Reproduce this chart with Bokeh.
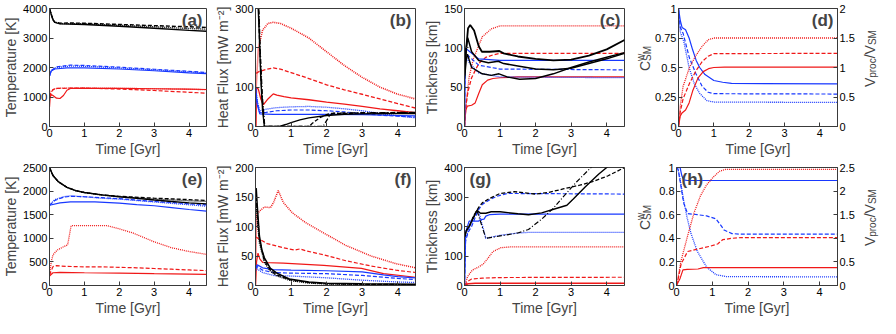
from math import pi
from bokeh.plotting import figure
from bokeh.models import Range1d, LinearAxis, FixedTicker, CustomJSTickFormatter, Label
from bokeh.layouts import row, column
from bokeh.embed import file_html
from bokeh.resources import INLINE

# ---------------- data (time in Gyr) ----------------
X_TICKS = [0, 1, 2, 3, 4]

# (a) Temperature [K]
A_K1_T = [0, 0.05, 0.1, 0.15, 0.3, 1, 2, 3, 4, 4.5]
A_K1_Y = [4000, 3800, 3620, 3530, 3480, 3460, 3400, 3330, 3260, 3230]
A_K2_T = [0, 0.05, 0.1, 0.15, 0.3, 0.5, 1, 2, 3, 4, 4.5]
A_K2_Y = [4000, 3800, 3620, 3540, 3500, 3510, 3500, 3460, 3420, 3380, 3360]
A_K3_T = [0, 0.1, 0.15, 0.3, 1, 2, 3, 4, 4.5]
A_K3_Y = [4000, 3620, 3540, 3490, 3480, 3430, 3380, 3320, 3300]
A_B1_T = [0, 0.05, 0.15, 0.5, 1, 2, 3, 4, 4.5]
A_B1_Y = [1720, 1880, 1950, 1990, 1985, 1950, 1890, 1820, 1790]
A_B2_T = [0, 0.05, 0.2, 0.6, 1, 2, 3, 4, 4.5]
A_B2_Y = [1720, 1900, 2020, 2080, 2070, 2010, 1940, 1870, 1830]
A_B3_T = [0, 0.05, 0.2, 0.6, 1, 2, 3, 4, 4.5]
A_B3_Y = [1720, 1890, 2000, 2050, 2040, 1985, 1920, 1850, 1810]
A_R1_T = [0, 0.02, 0.05, 0.1, 0.2, 0.3, 0.4, 0.5, 0.6, 1, 2, 3, 4, 4.5]
A_R1_Y = [650, 1000, 1080, 1050, 960, 950, 1050, 1230, 1290, 1295, 1290, 1280, 1265, 1255]
A_R2_T = [0, 0.05, 0.1, 0.2, 0.6, 1, 2, 3, 4, 4.5]
A_R2_Y = [1000, 1150, 1250, 1290, 1300, 1300, 1270, 1220, 1160, 1130]
A_R3_T = [0, 0.05, 0.15, 0.3, 1, 2, 3, 4, 4.5]
A_R3_Y = [1050, 1200, 1280, 1300, 1305, 1295, 1280, 1260, 1250]

# (b) Heat flux [mW m-2]
B_R3_T = [0.01, 0.02, 0.08, 0.2, 0.35, 0.5, 0.7, 1, 1.5, 2, 2.5, 3, 3.5, 4, 4.5]
B_R3_Y = [0, 100, 200, 245, 262, 265, 262, 250, 225, 190, 155, 125, 100, 82, 70]
B_R2_T = [0.02, 0.1, 0.3, 0.5, 0.7, 1, 1.5, 2, 2.5, 3, 3.5, 4, 4.5]
B_R2_Y = [135, 140, 145, 149, 146, 137, 122, 106, 93, 82, 70, 58, 47]
B_R1_T = [0.01, 0.03, 0.08, 0.15, 0.22, 0.35, 0.5, 0.6, 0.8, 1, 1.5, 2, 2.5, 3, 3.5, 4, 4.5]
B_R1_Y = [0, 100, 95, 70, 55, 70, 83, 80, 76, 73, 68, 62, 57, 51, 45, 40, 35]
B_B1_T = [0, 0.05, 0.12, 0.5, 1, 2, 3, 4, 4.5]
B_B1_Y = [100, 55, 32, 31, 31, 31, 30, 28, 27]
B_B2_T = [0, 0.05, 0.12, 0.3, 0.6, 1, 1.5, 2, 2.5, 3, 3.5, 4, 4.5]
B_B2_Y = [100, 60, 35, 36, 40, 42, 42, 40, 37, 33, 29, 26, 24]
B_B3_T = [0, 0.05, 0.12, 0.3, 0.6, 1, 1.5, 2, 2.5, 3, 3.5, 4, 4.5]
B_B3_Y = [100, 65, 40, 44, 48, 50, 51, 49, 45, 40, 33, 27, 22]
B_K1_T = [0.03, 0.1, 0.15, 0.2, 0.25, 0.6, 0.7, 0.85, 1, 1.25, 1.5, 2, 2.5, 3, 4, 4.5]
B_K1_Y = [400, 250, 120, 40, 0, 0, 1, 5, 10, 17, 22, 28, 31, 32, 33, 33]
B_K2_T = [0.05, 0.12, 0.18, 0.25, 1.5, 1.6, 1.8, 2, 2.1, 3, 4, 4.5]
B_K2_Y = [400, 200, 80, 0, 0, 8, 22, 30, 33, 34, 35, 35]
B_K3_T = [0.06, 0.13, 0.19, 0.26, 1.9, 2, 2.1, 2.2, 3, 4.5]
B_K3_Y = [400, 200, 80, 0, 0, 15, 30, 34, 35, 36]

# (c) Thickness [km]
C_R3_T = [0, 0.05, 0.13, 0.25, 0.5, 0.75, 1, 4.5]
C_R3_Y = [0, 30, 63, 86, 114, 124, 128, 128]
C_R2_T = [0, 0.05, 0.1, 0.2, 0.4, 0.6, 0.8, 1, 4.5]
C_R2_Y = [0, 30, 45, 62, 80, 88, 91, 93, 93]
C_R1_T = [0, 0.03, 0.08, 0.2, 0.3, 0.4, 0.5, 0.65, 0.8, 1, 1.5, 4.5]
C_R1_Y = [0, 20, 26, 27, 30, 42, 53, 59, 61, 62, 63, 63]
C_B1_T = [0, 0.02, 0.15, 0.4, 1, 4.5]
C_B1_Y = [0, 100, 95, 86, 84, 84]
C_B2_T = [0, 0.02, 0.15, 0.4, 1, 4.5]
C_B2_Y = [0, 95, 88, 78, 73, 72]
C_B3_T = [0, 0.02, 0.15, 0.4, 1, 4.5]
C_B3_Y = [0, 90, 80, 68, 63, 62]
C_K1_T = [0, 0.05, 0.1, 0.16, 0.27, 0.4, 0.49, 0.7, 0.98, 1.1, 1.5, 2, 2.5, 3, 3.5, 4, 4.5]
C_K1_Y = [65, 100, 125, 129, 122, 102, 95, 95, 96, 93, 89, 86, 84, 85, 90, 98, 110]
C_K2_T = [0, 0.05, 0.09, 0.2, 0.4, 0.67, 0.95, 1.1, 1.5, 2, 2.5, 3, 3.5, 4, 4.5]
C_K2_Y = [75, 100, 113, 95, 84, 81, 83, 80, 77, 73, 72, 74, 80, 86, 93]
C_K3_T = [0, 0.05, 0.08, 0.2, 0.5, 0.75, 0.97, 1.2, 1.55, 2, 2.5, 3, 3.5, 4, 4.5]
C_K3_Y = [60, 85, 92, 75, 67, 65, 67, 63, 60, 61, 67, 75, 82, 88, 94]

# (d) C^w_SM (left) and V_proc/V_SM (right)
D_B1_T = [0, 0.05, 0.1, 0.2, 0.3, 0.4, 0.5, 0.6, 0.75, 1.0, 1.25, 1.5, 4.5]
D_B1_Y = [1, 0.9, 0.84, 0.82, 0.75, 0.65, 0.56, 0.5, 0.44, 0.39, 0.375, 0.365, 0.362]
D_B2_T = [0, 0.05, 0.13, 0.31, 0.49, 0.67, 0.84, 1.0, 4.5]
D_B2_Y = [1, 0.84, 0.79, 0.58, 0.45, 0.34, 0.29, 0.278, 0.275]
D_B3_T = [0, 0.05, 0.15, 0.3, 0.45, 0.6, 0.8, 1.0, 4.5]
D_B3_Y = [1, 0.8, 0.72, 0.5, 0.36, 0.28, 0.22, 0.207, 0.204]
D_R1_T = [0, 0.05, 0.1, 0.2, 0.3, 0.4, 0.55, 0.7, 0.85, 1.0, 1.3, 4.5]
D_R1_Y = [0, 0.18, 0.23, 0.28, 0.4, 0.6, 0.82, 0.93, 0.98, 1.0, 1.005, 1.005]
D_R2_T = [0, 0.05, 0.13, 0.31, 0.49, 0.67, 0.84, 1.0, 4.5]
D_R2_Y = [0, 0.25, 0.47, 0.73, 0.94, 1.1, 1.19, 1.235, 1.24]
D_R3_T = [0, 0.05, 0.13, 0.31, 0.49, 0.67, 0.84, 1.0, 4.5]
D_R3_Y = [0, 0.35, 0.68, 1.0, 1.2, 1.36, 1.47, 1.5, 1.5]

# (e) Temperature [K]
E_K1_T = [0, 0.1, 0.25, 0.5, 0.75, 1, 1.5, 2, 2.5, 3, 3.5, 4, 4.5]
E_K1_Y = [2500, 2330, 2200, 2080, 2010, 1970, 1920, 1880, 1850, 1810, 1780, 1750, 1730]
E_K2_T = [0, 0.1, 0.25, 0.5, 0.75, 1, 1.5, 2, 3, 4, 4.5]
E_K2_Y = [2500, 2330, 2200, 2080, 2010, 1970, 1920, 1890, 1850, 1820, 1800]
E_K3_T = [0, 0.1, 0.25, 0.5, 0.75, 1, 1.5, 2, 3, 4, 4.5]
E_K3_Y = [2500, 2330, 2200, 2080, 2010, 1970, 1915, 1880, 1830, 1795, 1780]
E_B1_T = [0, 0.3, 0.6, 1.3, 2, 2.5, 3, 3.5, 4, 4.5]
E_B1_Y = [1700, 1750, 1770, 1770, 1745, 1715, 1690, 1650, 1610, 1575]
E_B2_T = [0, 0.15, 0.4, 0.6, 1, 1.5, 2, 2.5, 3, 3.5, 4, 4.5]
E_B2_Y = [1700, 1800, 1870, 1890, 1880, 1860, 1840, 1810, 1780, 1760, 1730, 1710]
E_B3_T = [0, 0.15, 0.4, 0.6, 1, 1.5, 2, 2.5, 3, 3.5, 4, 4.5]
E_B3_Y = [1700, 1820, 1880, 1900, 1880, 1850, 1830, 1800, 1770, 1740, 1710, 1680]
E_R3_T = [0, 0.05, 0.1, 0.22, 0.4, 0.52, 0.62, 1.65, 2, 2.4, 3, 3.5, 4, 4.5]
E_R3_Y = [200, 500, 650, 750, 820, 860, 1270, 1270, 1200, 1110, 925, 800, 720, 660]
E_R2_T = [0, 0.1, 0.2, 0.5, 1, 1.5, 2, 2.5, 3, 3.5, 4, 4.5]
E_R2_Y = [220, 400, 420, 405, 395, 395, 385, 375, 360, 345, 330, 315]
E_R1_T = [0, 0.1, 0.3, 1, 2, 3, 4, 4.5]
E_R1_Y = [200, 270, 280, 270, 262, 250, 240, 235]

# (f) Heat flux [mW m-2]
F_R3_T = [0.0, 0.03, 0.07, 0.15, 0.25, 0.42, 0.51, 0.64, 0.78, 1.04, 1.4, 1.92, 2.54, 3.25, 3.95, 4.5]
F_R3_Y = [0, 120, 123, 128, 133, 132, 141, 161, 141, 123, 107, 89, 68, 50, 37, 30]
F_R2_T = [0.02, 0.1, 0.33, 0.78, 1.1, 1.25, 1.4, 1.92, 2.54, 3.25, 3.95, 4.5]
F_R2_Y = [82, 79, 71, 64, 60, 62, 59, 52, 42, 33, 26, 22]
F_R1_T = [0, 0.03, 0.07, 0.12, 0.2, 0.78, 1.92, 2.98, 3.6, 4.5]
F_R1_Y = [0, 40, 55, 45, 39, 38, 34, 29, 20, 14]
F_B1_T = [0, 0.05, 0.2, 0.5, 1, 2, 3, 3.6, 4, 4.5]
F_B1_Y = [30, 35, 30, 27, 26, 25, 23, 18, 15, 13]
F_B2_T = [0, 0.05, 0.2, 0.5, 1, 2, 3, 4, 4.5]
F_B2_Y = [28, 32, 26, 22, 21, 20, 17, 12, 10]
F_B3_T = [0, 0.05, 0.2, 0.5, 1, 2, 3, 4, 4.5]
F_B3_Y = [25, 28, 22, 17, 16, 13, 9, 6, 5]
F_K1_T = [0.02, 0.05, 0.11, 0.18, 0.25, 0.42, 0.6, 0.95, 1.5, 2, 3, 4.5]
F_K1_Y = [165, 135, 84, 60, 47, 29, 21, 11, 6, 4, 3, 2]
F_K2_T = [0.02, 0.05, 0.11, 0.25, 0.42, 0.6, 1, 1.5, 2, 3, 4.5]
F_K2_Y = [150, 120, 78, 42, 26, 18, 9, 5, 3, 2, 1.5]
F_K3_T = [0.02, 0.05, 0.11, 0.25, 0.42, 0.6, 1, 1.5, 2, 3, 4.5]
F_K3_Y = [140, 110, 72, 39, 24, 16, 8, 4, 2.5, 1.5, 1]

# (g) Thickness [km]
G_R1_T = [0, 0.1, 0.3, 4.5]
G_R1_Y = [0, 6, 8, 8]
G_R2_T = [0, 0.1, 0.2, 0.5, 1, 4.5]
G_R2_Y = [0, 15, 22, 25, 27, 28]
G_R3_T = [0, 0.09, 0.22, 0.4, 0.53, 0.67, 0.8, 1.02, 1.3, 4.5]
G_R3_Y = [0, 31, 52, 63, 73, 94, 115, 128, 131, 131]
G_B1_T = [0, 0.03, 0.13, 0.4, 0.42, 0.55, 0.6, 0.7, 1, 4.5]
G_B1_Y = [0, 180, 218, 218, 222, 225, 235, 240, 242, 242]
G_B2_T = [0, 0.03, 0.1, 0.2, 0.3, 0.4, 0.5, 0.7, 0.9, 1.2, 4.5]
G_B2_Y = [0, 150, 180, 200, 230, 258, 275, 290, 302, 312, 310]
G_B3_T = [0, 0.03, 0.15, 0.3, 0.4, 0.6, 1, 1.5, 1.8, 4.5]
G_B3_Y = [0, 160, 200, 240, 250, 160, 170, 178, 180, 180]
G_K1_T = [0, 0.05, 0.15, 0.25, 0.35, 0.45, 0.6, 0.75, 1.0, 1.5, 1.8, 2.17, 2.6, 2.88, 3.06, 3.4, 3.77, 4.0, 4.2]
G_K1_Y = [165, 185, 205, 230, 255, 245, 245, 250, 250, 243, 240, 246, 262, 272, 293, 335, 377, 400, 420]
G_K2_T = [0, 0.05, 0.15, 0.25, 0.4, 0.5, 0.7, 1.0, 1.4, 2.0, 2.35, 2.8, 3.24, 3.6, 4.04, 4.5]
G_K2_Y = [165, 185, 205, 235, 265, 280, 295, 312, 318, 310, 315, 328, 340, 352, 372, 400]
G_K3_T = [0, 0.05, 0.15, 0.25, 0.35, 0.6, 1.0, 1.5, 1.8, 2.17, 2.5, 2.8, 3.15, 3.6]
G_K3_Y = [165, 185, 205, 230, 255, 160, 168, 178, 190, 225, 262, 304, 351, 405]

# (h) C^w_SM (left) and V_proc/V_SM (right)
H_B1_T = [0, 0.1, 0.15, 0.2, 0.3, 4.5]
H_B1_Y = [1, 1, 0.93, 0.895, 0.89, 0.89]
H_B2_T = [0, 0.05, 0.12, 0.2, 0.31, 0.58, 0.84, 1.1, 1.24, 1.33, 1.55, 1.8, 4.5]
H_B2_Y = [1, 0.98, 0.85, 0.7, 0.61, 0.6, 0.59, 0.565, 0.51, 0.47, 0.44, 0.435, 0.435]
H_B3_T = [0, 0.03, 0.1, 0.2, 0.3, 0.4, 0.58, 0.84, 1.1, 1.4, 4.5]
H_B3_Y = [1, 1, 0.9, 0.72, 0.57, 0.445, 0.29, 0.157, 0.092, 0.075, 0.073]
H_R1_T = [0, 0.1, 0.18, 0.3, 0.6, 0.75, 4.5]
H_R1_Y = [0, 0.15, 0.33, 0.34, 0.35, 0.38, 0.38]
H_R2_T = [0, 0.05, 0.13, 0.31, 0.58, 0.93, 1.15, 1.29, 1.55, 1.8, 4.5]
H_R2_Y = [0, 0.15, 0.46, 0.72, 0.77, 0.83, 0.88, 0.97, 1.0, 1.015, 1.015]
H_R3_T = [0, 0.05, 0.13, 0.31, 0.49, 0.67, 0.84, 1.02, 1.2, 1.37, 4.5]
H_R3_Y = [0, 0.2, 0.53, 1.05, 1.54, 1.9, 2.13, 2.29, 2.42, 2.46, 2.46]

# ---------------- styling ----------------
RED = "#f01818"
BLUE = "#1838ff"
BLACK = "#000000"
DASH = {"-": "solid", "--": "4 2", ":": "1 1", "-.": "5 2 1 2"}
FONT = "Liberation Sans"
FRAME = "#3a3a3a"
H = 159
TOP, BOT = 8, 32
FH = H - TOP - BOT
FMT = CustomJSTickFormatter(code="return String(+tick.toFixed(3));")


def style_axis(ax, ticks):
    ax.ticker = FixedTicker(ticks=ticks)
    ax.formatter = FMT
    ax.major_tick_in = 4
    ax.major_tick_out = 0
    ax.minor_tick_line_color = None
    ax.major_tick_line_color = FRAME
    ax.axis_line_color = FRAME
    ax.major_label_text_font = FONT
    ax.major_label_text_font_size = "11px"
    ax.major_label_text_color = "black"
    ax.major_label_standoff = 2
    ax.axis_label_text_font = FONT
    ax.axis_label_text_font_size = "14px"
    ax.axis_label_text_font_style = "normal"
    ax.axis_label_standoff = 1


def panel(width, left, right, yr, yticks, ylabel, tag, tag_left=False, right_range=None, right_ticks=None):
    p = figure(width=width, height=H, x_range=Range1d(0, 4.5), y_range=Range1d(*yr),
               output_backend="svg", toolbar_location=None,
               min_border_left=left, min_border_right=right,
               min_border_top=TOP, min_border_bottom=BOT)
    p.xgrid.visible = False
    p.ygrid.visible = False
    p.outline_line_color = FRAME
    p.outline_line_alpha = 1
    style_axis(p.xaxis[0], X_TICKS)
    style_axis(p.yaxis[0], yticks)
    p.xaxis[0].axis_label = "Time [Gyr]"
    if ylabel:
        p.yaxis[0].axis_label = ylabel
    if right_range is not None:
        p.extra_y_ranges = {"r": Range1d(*right_range)}
        rax = LinearAxis(y_range_name="r")
        style_axis(rax, right_ticks)
        p.add_layout(rax, "right")
    if tag_left:
        p.add_layout(Label(x=0, y=yr[1], x_offset=5, y_offset=-2, text=tag, text_align="left",
                           text_baseline="top", text_font=FONT, text_font_size="17px",
                           text_font_style="bold"))
    else:
        p.add_layout(Label(x=4.5, y=yr[1], x_offset=-4, y_offset=-2, text=tag, text_align="right",
                           text_baseline="top", text_font=FONT, text_font_size="17px",
                           text_font_style="bold"))
    return p


def lines(p, series, rng=None):
    for t, y, c, d, w in series:
        kw = {} if rng is None else {"y_range_name": rng}
        p.line(t, y, line_color=c, line_dash=DASH[d], line_width=w, **kw)


def text_strip(width, parts):
    """A narrow blank figure that only carries rotated axis-title pieces."""
    f = figure(width=width, height=H, x_range=Range1d(0, width), y_range=Range1d(0, H),
               output_backend="svg", toolbar_location=None,
               x_axis_location=None, y_axis_location=None,
               min_border=0, min_border_left=0, min_border_right=0,
               min_border_top=0, min_border_bottom=0)
    f.outline_line_color = None
    f.xgrid.visible = False
    f.ygrid.visible = False
    ymid = H - (TOP + FH / 2)
    for txt, x, dy, size in parts:
        f.add_layout(Label(x=x, y=ymid, y_offset=dy, text=txt, angle=pi / 2,
                           text_align="left", text_baseline="alphabetic",
                           text_font=FONT, text_font_size=size))
    return f


WA, WB, WC = 212, 209, 208
LA, LB, LC = 44, 41, 41
RA, RB, RC = 6, 6, 5
SL, SR = 23, 23          # widths of the strips carrying C^w_SM and V_proc/V_SM
LD, RD = 24, 19
WD = 880 - WA - WB - WC - SL - SR

HF = "Heat Flux [mW m\u207b\u00b2]"

# pieces: (text, x of baseline inside strip, offset along the text, size)
CSM = [("C", 15, -12.5, "14px"), ("w", 10.5, -2.4, "10px"), ("SM", 18, -2.4, "10px")]
VPROC = [("V", 12, -28.5, "14px"), ("proc", 15, -19.2, "10px"), ("/V", 12, 0.3, "14px"), ("SM", 15, 13.5, "10px")]

pa = panel(WA, LA, RA, (0, 4000), [0, 1000, 2000, 3000, 4000], "Temperature [K]", "(a)")
lines(pa, [(A_R1_T, A_R1_Y, RED, "-", 1.2), (A_R2_T, A_R2_Y, RED, "--", 1.2), (A_R3_T, A_R3_Y, RED, ":", 1.3),
           (A_B1_T, A_B1_Y, BLUE, "-", 1.2), (A_B2_T, A_B2_Y, BLUE, "--", 1.2), (A_B3_T, A_B3_Y, BLUE, ":", 1.3),
           (A_K1_T, A_K1_Y, BLACK, "-", 1.4), (A_K2_T, A_K2_Y, BLACK, "--", 1.4), (A_K3_T, A_K3_Y, BLACK, ":", 1.4)])

pb = panel(WB, LB, RB, (0, 300), [0, 100, 200, 300], HF, "(b)")
lines(pb, [(B_R3_T, B_R3_Y, RED, ":", 1.6), (B_R2_T, B_R2_Y, RED, "--", 1.3), (B_R1_T, B_R1_Y, RED, "-", 1.3),
           (B_B1_T, B_B1_Y, BLUE, "-", 1.2), (B_B2_T, B_B2_Y, BLUE, "--", 1.2), (B_B3_T, B_B3_Y, BLUE, ":", 1.3),
           (B_K1_T, B_K1_Y, BLACK, "-", 1.4), (B_K2_T, B_K2_Y, BLACK, "--", 1.3), (B_K3_T, B_K3_Y, BLACK, "-.", 1.3)])

pc = panel(WC, LC, RC, (0, 150), [0, 50, 100, 150], "Thickness [km]", "(c)")
lines(pc, [(C_R3_T, C_R3_Y, RED, ":", 1.3), (C_R2_T, C_R2_Y, RED, "--", 1.3), (C_R1_T, C_R1_Y, RED, "-", 1.2),
           (C_B1_T, C_B1_Y, BLUE, "-", 1.2), (C_B2_T, C_B2_Y, BLUE, "--", 1.2), (C_B3_T, C_B3_Y, BLUE, ":", 1.3),
           (C_K1_T, C_K1_Y, BLACK, "-", 1.8), (C_K2_T, C_K2_Y, BLACK, "-", 1.5), (C_K3_T, C_K3_Y, BLACK, "-", 1.4)])

pd_ = panel(WD, LD, RD, (0, 1), [0, 0.25, 0.5, 0.75, 1], None, "(d)", right_range=(0, 2),
            right_ticks=[0, 0.5, 1, 1.5, 2])
lines(pd_, [(D_B1_T, D_B1_Y, BLUE, "-", 1.2), (D_B2_T, D_B2_Y, BLUE, "--", 1.2), (D_B3_T, D_B3_Y, BLUE, ":", 1.3)])
lines(pd_, [(D_R1_T, D_R1_Y, RED, "-", 1.2), (D_R2_T, D_R2_Y, RED, "--", 1.2), (D_R3_T, D_R3_Y, RED, ":", 1.3)], "r")

pe = panel(WA, LA, RA, (0, 2500), [0, 500, 1000, 1500, 2000, 2500], "Temperature [K]", "(e)")
lines(pe, [(E_R1_T, E_R1_Y, RED, "-", 1.2), (E_R2_T, E_R2_Y, RED, "--", 1.2), (E_R3_T, E_R3_Y, RED, ":", 1.3),
           (E_B1_T, E_B1_Y, BLUE, "-", 1.2), (E_B2_T, E_B2_Y, BLUE, "--", 1.2), (E_B3_T, E_B3_Y, BLUE, ":", 1.3),
           (E_K1_T, E_K1_Y, BLACK, "-", 1.4), (E_K2_T, E_K2_Y, BLACK, "--", 1.3), (E_K3_T, E_K3_Y, BLACK, ":", 1.3)])

pf = panel(WB, LB, RB, (0, 200), [0, 50, 100, 150, 200], HF, "(f)")
lines(pf, [(F_R3_T, F_R3_Y, RED, ":", 1.5), (F_R2_T, F_R2_Y, RED, "--", 1.2), (F_R1_T, F_R1_Y, RED, "-", 1.2),
           (F_B1_T, F_B1_Y, BLUE, "-", 1.2), (F_B2_T, F_B2_Y, BLUE, "--", 1.2), (F_B3_T, F_B3_Y, BLUE, ":", 1.3),
           (F_K1_T, F_K1_Y, BLACK, "-", 1.5), (F_K2_T, F_K2_Y, BLACK, "--", 1.3), (F_K3_T, F_K3_Y, BLACK, ":", 1.3)])

pg = panel(WC, LC, RC, (0, 400), [0, 100, 200, 300, 400], "Thickness [km]", "(g)", tag_left=True)
lines(pg, [(G_R1_T, G_R1_Y, RED, "-", 1.5), (G_R2_T, G_R2_Y, RED, "--", 1.2), (G_R3_T, G_R3_Y, RED, ":", 1.3),
           (G_B1_T, G_B1_Y, BLUE, "-", 1.2), (G_B2_T, G_B2_Y, BLUE, "--", 1.2), (G_B3_T, G_B3_Y, BLUE, ":", 1.3),
           (G_K1_T, G_K1_Y, BLACK, "-", 1.4), (G_K2_T, G_K2_Y, BLACK, "--", 1.3), (G_K3_T, G_K3_Y, BLACK, "-.", 1.2)])

ph = panel(WD, LD, RD, (0, 1), [0, 0.2, 0.4, 0.6, 0.8, 1], None, "(h)", tag_left=True, right_range=(0, 2.5),
           right_ticks=[0, 0.5, 1, 1.5, 2, 2.5])
lines(ph, [(H_B1_T, H_B1_Y, BLUE, "-", 1.2), (H_B2_T, H_B2_Y, BLUE, "--", 1.2), (H_B3_T, H_B3_Y, BLUE, ":", 1.3)])
lines(ph, [(H_R1_T, H_R1_Y, RED, "-", 1.2), (H_R2_T, H_R2_Y, RED, "--", 1.2), (H_R3_T, H_R3_Y, RED, ":", 1.3)], "r")

layout = column(
    row(pa, pb, pc, text_strip(SL, CSM), pd_, text_strip(SR, VPROC)),
    row(pe, pf, pg, text_strip(SL, CSM), ph, text_strip(SR, VPROC)),
)
open("out.html", "w").write(file_html(layout, INLINE))
